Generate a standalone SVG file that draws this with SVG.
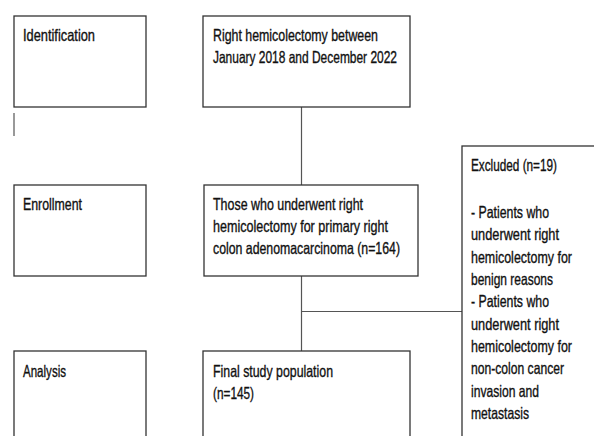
<svg xmlns="http://www.w3.org/2000/svg" width="594" height="436" viewBox="0 0 594 436">
<style>
.box{fill:#fff;stroke:#333;stroke-width:1.3}
.t{font-family:"Liberation Sans",Arial,sans-serif;font-size:16.5px;fill:#111;stroke:#111;stroke-width:0.35}
.c{stroke:#555;stroke-width:1.2;fill:none}
</style>
<rect width="594" height="436" fill="#fff"/>
<g id="connectors">
<line class="c" x1="301.5" y1="107" x2="301.5" y2="185"/>
<line class="c" x1="301.5" y1="276" x2="301.5" y2="351"/>
<line class="c" x1="301.5" y1="311.5" x2="462" y2="311.5" stroke="#222"/>
<line class="c" x1="14" y1="113" x2="14" y2="136" stroke="#333"/>
</g>
<g id="identification">
<rect class="box" x="14" y="16" width="132" height="91"/>
<text class="t" x="23" y="41" textLength="72" lengthAdjust="spacingAndGlyphs">Identification</text>
</g>
<g id="enrollment">
<rect class="box" x="14" y="185" width="132" height="91"/>
<text class="t" x="23" y="210" textLength="59" lengthAdjust="spacingAndGlyphs">Enrollment</text>
</g>
<g id="analysis">
<rect class="box" x="14" y="351" width="132" height="100"/>
<text class="t" x="23" y="377" textLength="43" lengthAdjust="spacingAndGlyphs">Analysis</text>
</g>
<g id="period">
<rect class="box" x="203" y="16" width="207" height="91"/>
<text class="t" x="213" y="41" textLength="165" lengthAdjust="spacingAndGlyphs">Right hemicolectomy between</text>
<text class="t" x="213" y="63" textLength="184" lengthAdjust="spacingAndGlyphs">January 2018 and December 2022</text>
</g>
<g id="underwent">
<rect class="box" x="204" y="185" width="214" height="91"/>
<text class="t" x="213" y="210" textLength="150" lengthAdjust="spacingAndGlyphs">Those who underwent right</text>
<text class="t" x="213" y="232" textLength="175" lengthAdjust="spacingAndGlyphs">hemicolectomy for primary right</text>
<text class="t" x="213" y="254" textLength="187" lengthAdjust="spacingAndGlyphs">colon adenomacarcinoma (n=164)</text>
</g>
<g id="final">
<rect class="box" x="203" y="351" width="207" height="100"/>
<text class="t" x="213" y="377" textLength="120" lengthAdjust="spacingAndGlyphs">Final study population</text>
<text class="t" x="213" y="399" textLength="41" lengthAdjust="spacingAndGlyphs">(n=145)</text>
</g>
<g id="excluded">
<rect class="box" x="462" y="146" width="150" height="310"/>
<text class="t" x="471" y="171" textLength="86" lengthAdjust="spacingAndGlyphs">Excluded (n=19)</text>
<text class="t" x="471" y="218" textLength="78" lengthAdjust="spacingAndGlyphs">- Patients who</text>
<text class="t" x="471" y="240" textLength="88" lengthAdjust="spacingAndGlyphs">underwent right</text>
<text class="t" x="471" y="263" textLength="101" lengthAdjust="spacingAndGlyphs">hemicolectomy for</text>
<text class="t" x="471" y="285" textLength="82" lengthAdjust="spacingAndGlyphs">benign reasons</text>
<text class="t" x="471" y="307" textLength="78" lengthAdjust="spacingAndGlyphs">- Patients who</text>
<text class="t" x="471" y="330" textLength="88" lengthAdjust="spacingAndGlyphs">underwent right</text>
<text class="t" x="471" y="352" textLength="101" lengthAdjust="spacingAndGlyphs">hemicolectomy for</text>
<text class="t" x="471" y="374" textLength="93" lengthAdjust="spacingAndGlyphs">non-colon cancer</text>
<text class="t" x="471" y="397" textLength="68" lengthAdjust="spacingAndGlyphs">invasion and</text>
<text class="t" x="471" y="419" textLength="58" lengthAdjust="spacingAndGlyphs">metastasis</text>
</g>
</svg>
